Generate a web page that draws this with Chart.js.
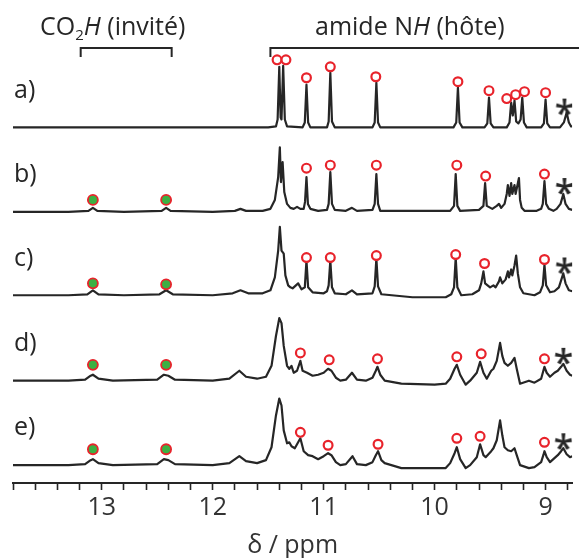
<!DOCTYPE html>
<html>
<head>
<meta charset="utf-8">
<script src="https://cdn.jsdelivr.net/npm/chart.js@4.4.0/dist/chart.umd.min.js"></script>
<style>
  html, body { margin: 0; padding: 0; background: #fff; }
  #wrap { width: 579px; height: 558px; position: relative; }
</style>
</head>
<body>
<div id="wrap"><canvas id="myChart" width="579" height="558"></canvas></div>
<script>
// spectra: [ppm, intensity]
const traceNames = ["a)", "b)", "c)", "d)", "e)"];
const ppmLabels = [13, 12, 11, 10, 9];

const specA = [[13.8,0],[11.5,0],[11.43,1],[11.415,8],[11.40,61],[11.388,10],[11.38,8],[11.365,62],[11.35,8],[11.33,1],
  [11.19,0],[11.17,5],[11.155,43],[11.14,5],[11.12,0],
  [10.97,0],[10.955,6],[10.94,55],[10.925,6],[10.9,0],
  [10.56,0],[10.54,5],[10.525,45],[10.51,5],[10.49,0],
  [9.83,0],[9.805,5],[9.79,40],[9.775,5],[9.75,0],
  [9.55,0],[9.525,4],[9.51,30],[9.495,4],[9.47,0],
  [9.35,0],[9.325,5],[9.31,25],[9.295,12],[9.28,27],[9.265,6],[9.245,4],[9.225,8],[9.21,30],[9.195,5],[9.17,0],
  [9.04,0],[9.015,4],[9.00,28],[8.985,4],[8.96,0],
  [8.87,0],[8.835,5],[8.81,15],[8.79,5],[8.77,1],[8.76,1]];

const specB = [[13.8,0],[13.3,0],[13.12,1],[13.08,4],[13.04,1],[12.8,0],[12.46,1],[12.42,4],[12.38,1],[12.0,0],[11.80,1],[11.75,3],[11.70,1],[11.55,1],
  [11.48,3],[11.44,12],[11.41,35],[11.395,65],[11.385,30],[11.37,50],[11.355,20],[11.33,8],[11.30,4],[11.27,3],[11.24,5],[11.21,3],
  [11.18,3],[11.168,10],[11.155,35],[11.142,8],[11.12,3],[11.05,1],
  [10.97,2],[10.955,8],[10.94,40],[10.925,8],[10.9,2],[10.8,1],[10.745,4],[10.70,1],
  [10.56,2],[10.54,8],[10.525,38],[10.51,8],[10.49,1],
  [9.86,1],[9.825,6],[9.81,38],[9.795,6],[9.77,1],
  [9.6,2],[9.56,6],[9.545,29],[9.53,6],[9.48,3],[9.44,6],[9.42,8],[9.40,4],[9.37,8],
  [9.35,18],[9.34,27],[9.325,16],[9.31,29],[9.30,18],[9.28,27],[9.27,18],[9.24,34],[9.23,12],[9.215,4],[9.19,1],[9.08,1],
  [9.04,3],[9.025,8],[9.01,31],[8.995,8],[8.97,3],[8.93,1],[8.9,3],[8.865,8],[8.84,18],[8.82,8],[8.79,3],[8.76,2]];

const specC = [[13.8,0],[13.3,0],[13.13,1],[13.08,5],[13.03,1],[12.8,0],[12.48,1],[12.42,5],[12.36,1],[12.0,0],[11.82,2],[11.75,5],[11.68,2],[11.55,2],
  [11.48,5],[11.44,18],[11.41,45],[11.395,69],[11.38,45],[11.36,42],[11.345,20],[11.32,10],[11.30,8],[11.28,7],[11.23,12],[11.20,6],
  [11.17,8],[11.155,35],[11.14,8],[11.1,3],[11.0,2],
  [10.97,4],[10.955,10],[10.94,35],[10.925,8],[10.9,2],[10.8,1],[10.745,5],[10.70,1],
  [10.56,2],[10.54,9],[10.525,37],[10.51,9],[10.48,1],[10.2,-2],[9.9,-2],
  [9.85,1],[9.825,8],[9.81,38],[9.795,8],[9.76,0],[9.66,1],
  [9.6,5],[9.58,12],[9.56,24],[9.545,12],[9.5,8],[9.47,10],[9.45,8],[9.42,14],[9.41,18],[9.39,12],[9.36,16],[9.34,24],[9.33,18],[9.31,26],[9.30,20],[9.28,30],[9.265,40],[9.25,22],[9.23,8],[9.2,2],[9.1,0],
  [9.05,3],[9.025,10],[9.01,31],[8.995,10],[8.96,3],[8.92,4],[8.88,8],[8.84,22],[8.82,12],[8.79,5],[8.76,4]];

const specD = [[13.8,0],[13.3,0],[13.15,1],[13.10,5],[13.08,6],[13.03,2],[12.9,0],[12.5,1],[12.44,6],[12.40,5],[12.34,1],[12.0,0],[11.85,2],[11.76,10],[11.70,4],[11.6,2],
  [11.52,4],[11.47,15],[11.43,45],[11.40,63],[11.38,58],[11.36,35],[11.33,15],[11.31,12],[11.29,15],[11.27,8],[11.24,10],[11.21,20],[11.19,10],[11.15,8],[11.1,5],[11.05,6],
  [11.0,8],[10.96,12],[10.93,10],[10.89,3],[10.85,0],[10.80,1],[10.745,8],[10.70,1],[10.62,0],
  [10.56,3],[10.53,10],[10.515,14],[10.49,6],[10.45,0],[10.3,-3],[10.0,-4],[9.9,-3],
  [9.86,2],[9.82,12],[9.80,16],[9.77,6],[9.72,-4],[9.68,0],
  [9.62,8],[9.59,19],[9.56,8],[9.53,2],[9.49,10],[9.47,12],[9.44,20],[9.41,38],[9.39,25],[9.37,18],[9.34,15],[9.31,18],[9.28,23],[9.26,12],[9.23,-3],[9.15,0],[9.1,-2],
  [9.04,2],[9.02,10],[9.01,14],[8.99,8],[8.96,4],[8.92,8],[8.89,10],[8.86,14],[8.84,17],[8.81,10],[8.78,6],[8.76,5]];

const specE = [[13.8,0],[13.3,0],[13.15,1],[13.10,5],[13.08,6],[13.03,2],[12.9,0],[12.5,1],[12.44,6],[12.40,5],[12.34,1],[12.0,0],[11.85,2],[11.76,9],[11.70,4],[11.6,2],
  [11.52,5],[11.47,18],[11.43,50],[11.40,67],[11.38,60],[11.36,35],[11.33,22],[11.31,23],[11.29,19],[11.26,17],[11.21,27],[11.18,14],[11.14,10],[11.1,9],[11.05,6],
  [11.0,9],[10.96,12],[10.93,10],[10.89,3],[10.85,0],[10.80,1],[10.74,9],[10.70,1],[10.62,0],
  [10.56,3],[10.53,10],[10.51,14],[10.48,5],[10.45,2],[10.3,-3],[10.0,-3],[9.9,-3],
  [9.86,2],[9.82,12],[9.80,18],[9.77,6],[9.72,-3],[9.68,0],
  [9.62,8],[9.59,21],[9.56,10],[9.54,8],[9.49,14],[9.47,17],[9.44,25],[9.41,45],[9.39,30],[9.37,18],[9.34,15],[9.31,14],[9.28,17],[9.26,10],[9.23,0],[9.15,-3],[9.1,-2],
  [9.04,3],[9.02,10],[9.01,14],[8.99,8],[8.96,3],[8.92,7],[8.89,10],[8.86,14],[8.84,17],[8.81,11],[8.78,8],[8.76,9]];

// markers: host amide NH (open red circles), guest CO2H (green dots), asterisks
const hostA = [[11.42,68],[11.34,68],[11.155,50],[10.94,61],[10.53,51],[9.79,46],[9.51,37],[9.35,29],[9.27,33],[9.19,36],[9.00,35]];
const hostB = [[11.155,44],[10.94,47],[10.525,47],[9.80,47],[9.54,36],[9.01,38]];
const hostC = [[11.155,38],[10.94,38],[10.525,40],[9.81,41],[9.55,32],[9.01,36]];
const hostD = [[11.21,28],[10.95,21],[10.515,22],[9.80,24],[9.58,27],[9.01,22]];
const hostE = [[11.21,33],[10.96,20],[10.51,21],[9.80,27],[9.59,29],[9.01,23]];
const guestB = [[13.08,12],[12.42,12]];
const guestC = [[13.08,12],[12.42,11]];
const guestD = [[13.08,16],[12.42,16]];
const guestE = [[13.08,16],[12.42,16]];
const starPts = [[8.83,23],[8.83,28],[8.83,32],[8.84,27],[8.84,26]];

const spectra = [specA, specB, specC, specD, specE];
const hosts = [hostA, hostB, hostC, hostD, hostE];
const guests = [[], guestB, guestC, guestD, guestE];

// vertical offset of each trace (stack plot)
const baseY = [358, 273, 189, 103, 18];

const FONT = "'Open Sans', 'Noto Sans', sans-serif";
const INK = "#262626";
const RED = "#e8232b";

const starImg = document.createElement("canvas");
starImg.width = 30; starImg.height = 30;
(function () {
  const c = starImg.getContext("2d");
  c.fillStyle = INK;
  c.font = "600 36px " + FONT;
  c.textAlign = "center";
  c.textBaseline = "alphabetic";
  c.fillText("*", 15, 36);
})();

const shift = (arr, i) => arr.map(p => ({ x: p[0], y: p[1] + baseY[i] }));

const datasets = [];
spectra.forEach((s, i) => {
  datasets.push({
    type: "line", data: shift(s, i), borderColor: INK, borderWidth: 2.2,
    pointRadius: 0, tension: 0, order: 2, borderJoinStyle: "round"
  });
  datasets.push({
    type: "scatter", data: shift(hosts[i], i), pointStyle: "circle", pointRadius: 4.4,
    borderWidth: 2.2, pointBorderColor: RED, pointBackgroundColor: "#fff", order: 0
  });
  if (guests[i].length) {
    datasets.push({
      type: "scatter", data: shift(guests[i], i), pointStyle: "circle", pointRadius: 5,
      borderWidth: 1.8, pointBorderColor: RED, pointBackgroundColor: "#3cb043", order: 0
    });
  }
  datasets.push({
    type: "scatter", data: [{ x: starPts[i][0], y: starPts[i][1] + baseY[i] }],
    pointStyle: starImg, order: 0
  });
});

const tickValues = [];
for (let k = 0; k <= 25; k++) tickValues.push(+(13.8 - k * 0.2).toFixed(1));

const annotate = {
  id: "annotate",
  afterDraw(chart) {
    const ctx = chart.ctx, x = chart.scales.x, y = chart.scales.y;
    ctx.save();
    ctx.fillStyle = INK;
    ctx.strokeStyle = INK;
    ctx.textBaseline = "alphabetic";
    // header texts
    let px = 40;
    const put = (t, f, dy) => { ctx.font = f; ctx.fillText(t, px, 35 + (dy || 0)); px += ctx.measureText(t).width; };
    put("CO", "25px " + FONT);
    put("2", "15px " + FONT, 5);
    put("H", "italic 25px " + FONT);
    put(" (invité)", "25px " + FONT);
    px = 315;
    put("amide N", "25px " + FONT);
    put("H", "italic 25px " + FONT);
    put(" (hôte)", "25px " + FONT);
    // brackets
    ctx.lineWidth = 2;
    const l1 = x.getPixelForValue(13.19), r1 = x.getPixelForValue(12.37);
    ctx.beginPath();
    ctx.moveTo(l1, 57); ctx.lineTo(l1, 48); ctx.lineTo(r1, 48); ctx.lineTo(r1, 57);
    ctx.stroke();
    const l2 = x.getPixelForValue(11.48);
    ctx.beginPath();
    ctx.moveTo(l2, 57); ctx.lineTo(l2, 48); ctx.lineTo(chart.width, 48);
    ctx.stroke();
    // trace labels
    ctx.font = "25px " + FONT;
    ctx.textBaseline = "middle";
    traceNames.forEach((n, i) => ctx.fillText(n, 14, y.getPixelForValue(baseY[i] + 37)));
    ctx.restore();
  }
};

new Chart(document.getElementById("myChart"), {
  data: { datasets },
  options: {
    responsive: false,
    animation: false,
    layout: { padding: { left: 13, right: 0, top: 40, bottom: 0 } },
    plugins: { legend: { display: false }, tooltip: { enabled: false } },
    scales: {
      x: {
        type: "linear", reverse: true, min: 8.76, max: 13.8,
        afterBuildTicks: (scale) => { scale.ticks = tickValues.map(v => ({ value: v })); },
        grid: { drawOnChartArea: false, drawTicks: true, tickLength: 7, tickWidth: 1.6, tickColor: INK },
        border: { display: true, color: INK, width: 2 },
        ticks: {
          autoSkip: false, maxRotation: 0, padding: 5, color: "#333",
          font: { family: FONT, size: 25, lineHeight: 1 },
          callback: (v) => ppmLabels.includes(Math.round(v * 10) / 10) ? String(Math.round(v)) : ""
        },
        title: {
          display: true, text: "δ / ppm", color: "#333",
          font: { family: FONT, size: 25, lineHeight: 1 }, padding: { top: 8, bottom: 0 }
        }
      },
      y: { display: false, min: 0, max: 446 }
    }
  },
  plugins: [annotate]
});
</script>
</body>
</html>
